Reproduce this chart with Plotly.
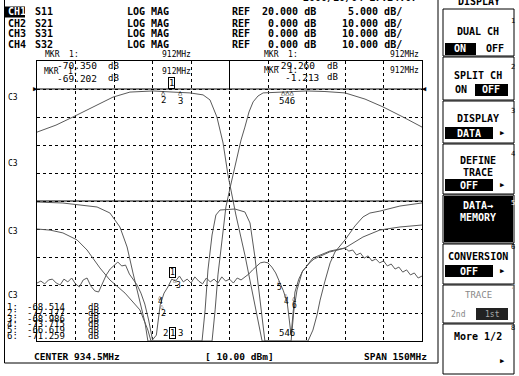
import plotly.graph_objects as go

S21_F = [859.5, 866.9, 873.5, 882.1, 889.1, 895.7, 904.7, 912.5, 919.1, 924.2, 926.9, 929.6,
         932.0, 933.9, 935.1, 937.0, 940.5, 943.3, 945.6, 947.2, 965.1, 967.0, 968.6, 969.8,
         971.7, 973.7, 975.6, 979.5, 983.4, 986.5, 989.2, 993.1, 1000.9, 1009.5]
S21_DB = [-15.4, -12.9, -10.0, -6.1, -2.9, -1.1, -0.7, -1.1, -1.4, -2.1, -3.9, -10.0,
          -19.3, -30.7, -36.8, -45.0, -59.3, -71.8, -82.5, -90.0, -90.0, -86.1, -80.7, -75.4,
          -68.6, -62.1, -58.2, -53.9, -48.9, -45.7, -44.3, -43.6, -41.8, -40.7]

S31_F = [859.5, 864.6, 869.6, 875.1, 879.0, 881.3, 884.0, 887.9, 893.8, 899.6, 902.7, 903.9,
         927.7, 928.9, 930.0, 931.6, 933.1, 934.7, 935.9, 937.4, 939.0, 940.5, 942.1, 943.7,
         945.6, 947.6, 954.2, 964.7, 971.7, 979.5, 987.3, 994.3, 1002.1, 1009.5]
S31_DB = [-50.0, -50.4, -51.4, -53.9, -57.5, -60.4, -63.9, -68.2, -72.9, -78.9, -86.1, -90.0,
          -90.0, -78.9, -66.4, -53.9, -42.1, -35.4, -30.4, -24.3, -18.2, -13.6, -8.2, -4.6,
          -2.5, -1.4, -1.1, -0.7, -0.9, -1.4, -3.6, -6.4, -10.0, -13.6]

S11_F = [859.5, 869.6, 882.9, 887.9, 891.8, 894.6, 896.9, 899.6, 901.6, 902.7, 923.8, 925.0,
         926.1, 927.7, 929.2, 930.8, 936.6, 940.5, 942.5, 944.4, 946.4, 947.6, 948.3, 958.5,
         959.6, 960.8, 962.8, 967.0, 973.7, 979.5, 986.5, 993.1, 1000.9, 1009.5]
S11_DB = [-0.18, -0.36, -1.07, -2.14, -4.64, -8.21, -12.86, -17.68, -21.79, -25.0, -25.0, -19.46,
          -12.32, -6.07, -2.5, -1.61, -1.43, -1.96, -3.93, -10.0, -17.68, -21.79, -25.0, -25.0,
          -19.46, -15.89, -12.68, -10.18, -8.93, -8.39, -6.43, -5.18, -4.64, -4.29]

S32_F = [859.5, 861.0, 862.5, 864.0, 865.5, 867.0, 868.5, 870.0, 871.5, 873.0,
         874.5, 876.0, 877.5, 879.0, 880.5, 882.0, 883.5, 885.0, 886.5, 888.0,
         889.5, 891.0, 892.5, 894.0, 895.5, 897.0, 898.5, 900.0, 901.5, 903.0,
         904.5, 906.0, 907.5, 909.0, 910.5, 912.0, 913.5, 915.0, 916.5, 918.0,
         919.5, 921.0, 922.5, 924.0, 925.5, 927.0, 928.5, 930.0, 931.5, 933.0,
         934.5, 936.0, 937.5, 939.0, 940.5, 942.0, 943.5, 945.0, 946.5, 948.0,
         949.5, 951.0, 952.5, 954.0, 955.5, 957.0, 958.5, 960.0, 961.5, 963.0,
         964.5, 966.0, 967.5, 969.0, 970.5, 972.0, 973.5, 975.0, 976.5, 978.0,
         979.5, 981.0, 982.5, 984.0, 985.5, 987.0, 988.5, 990.0, 991.5, 993.0,
         994.5, 996.0, 997.5, 999.0, 1000.5, 1002.0, 1003.5, 1005.0, 1006.5, 1008.0,
         1009.5]
S32_DB = [-69.3, -68.6, -69.6, -68.2, -67.9, -69.3, -70.0, -67.9, -68.9, -67.5,
          -69.6, -70.7, -68.2, -67.5, -70.4, -72.1, -72.5, -69.3, -66.4, -64.3,
          -62.9, -61.8, -63.2, -62.9, -66.1, -68.2, -70.0, -72.9, -76.8, -82.5,
          -89.6, -87.9, -77.1, -72.9, -70.7, -67.9, -68.6, -66.8, -68.9, -67.9,
          -69.3, -67.1, -68.6, -69.6, -67.5, -68.9, -67.9, -69.3, -67.1, -68.6,
          -67.9, -69.3, -67.5, -68.2, -67.1, -66.1, -64.6, -63.2, -62.1, -61.8,
          -62.1, -63.6, -65.7, -68.9, -72.1, -76.4, -87.9, -72.5, -67.9, -65.0,
          -63.2, -61.8, -60.7, -60.0, -59.6, -58.9, -58.2, -57.9, -57.5, -57.1,
          -56.8, -57.9, -57.5, -59.3, -58.6, -60.4, -59.6, -61.4, -60.7, -62.1,
          -61.4, -63.2, -62.5, -64.3, -63.6, -65.4, -64.6, -66.4, -65.7, -67.5,
          -66.8]

CHANNELS = ["CH1", "CH2", "CH3", "CH4"]
PARAMS = ["S11", "S21", "S31", "S32"]
REFS = ["20.000 dB", "0.000 dB", "0.000 dB", "0.000 dB"]
SCALES = ["5.000 dB/", "10.000 dB/", "10.000 dB/", "10.000 dB/"]
MKR_NUM = ["1:", "2:", "3:", "4:", "5:", "6:"]
MKR_VAL = ["-68.514", "-77.177", "-68.986", "-73.715", "-66.619", "-71.259"]

CENTER_MHZ = 934.5
SPAN_MHZ = 150.0

# ---------------- geometry helpers ----------------
W, H = 519, 376
L, R, T, B = 37, 422, 61, 341
MONO = "DejaVu Sans Mono"
TRACE = "#5a5a5a"


def px(x):
    return (x - L) / (R - L)


def py(y):
    return (B - y) / (B - T)


fig = go.Figure()
fig.add_trace(go.Scatter(x=S21_F, y=S21_DB, mode="lines", line=dict(color=TRACE, width=1), name="S21"))
fig.add_trace(go.Scatter(x=S31_F, y=S31_DB, mode="lines", line=dict(color=TRACE, width=1), name="S31"))
fig.add_trace(go.Scatter(x=S32_F, y=S32_DB, mode="lines", line=dict(color=TRACE, width=1), name="S32"))
fig.add_trace(go.Scatter(x=S11_F, y=S11_DB, mode="lines", line=dict(color=TRACE, width=1), name="S11",
                         yaxis="y2"))

ann = []


def text(s, x, y, size=10, bold=False, color="black", xa="left", ya="middle", border=None, bg=None):
    d = dict(text=s, x=px(x), y=py(y), xref="paper", yref="paper", showarrow=False,
             xanchor=xa, yanchor=ya,
             font=dict(family=MONO, size=size, color=color, weight="bold" if bold else "normal"))
    if border:
        d.update(bordercolor=border, borderwidth=1, borderpad=0)
    if bg:
        d.update(bgcolor=bg)
    ann.append(d)


shapes = []


def rect(x0, y0, x1, y1, fill=None, line="black", lw=1):
    shapes.append(dict(type="rect", xref="paper", yref="paper", x0=px(x0), x1=px(x1), y0=py(y0), y1=py(y1),
                       line=dict(color=line, width=lw if line else 0), fillcolor=fill or "rgba(0,0,0,0)",
                       layer="above"))


def hline(x0, x1, y, color="black", lw=1, dash="solid"):
    shapes.append(dict(type="line", xref="paper", yref="paper", x0=px(x0), x1=px(x1), y0=py(y), y1=py(y),
                       line=dict(color=color, width=lw, dash=dash), layer="above"))


def vline(x, y0, y1, color="black", lw=1):
    shapes.append(dict(type="line", xref="paper", yref="paper", x0=px(x), x1=px(x), y0=py(y0), y1=py(y1),
                       line=dict(color=color, width=lw), layer="above"))


# reference lines
shapes.append(dict(type="line", xref="paper", yref="y", x0=0, x1=1, y0=0, y1=0, line=dict(color="black", width=1)))
shapes.append(dict(type="line", xref="paper", yref="y", x0=0, x1=1, y0=-40, y1=-40, line=dict(color="black", width=1)))
shapes.append(dict(type="line", xref="x", yref="y", x0=CENTER_MHZ, x1=CENTER_MHZ, y0=0, y1=10,
                   line=dict(color="black", width=1)))

# outer frame of the display
vline(4.5, -2, 363)
hline(4.5, 438, 363)
vline(438, -2, 363)

# header
rows_y = [12, 23, 33.5, 44]
for i in range(4):
    yy = rows_y[i]
    if i == 0:
        rect(5, yy - 5.5, 25, yy + 5.5, fill="black", line=None)
        text(CHANNELS[i], 6, yy, bold=True, color="white")
    else:
        text(CHANNELS[i], 6, yy, bold=True)
    text(PARAMS[i], 33, yy, bold=True)
    text("LOG MAG", 125, yy, bold=True)
    text("REF", 230, yy, bold=True)
    text(REFS[i], 318, yy, bold=True, xa="right")
    text(SCALES[i], 404, yy, bold=True, xa="right")
text("2000/10/04 17:24:07", 360, -2, size=10, bold=True, xa="center")

# marker readouts
text("MKR  1:", 43, 54.5, size=8)
text("912MHz", 193, 54.5, size=8, xa="right")
text("-70.350", 55, 65.5, size=9.5)
text("dB", 106, 65.5, size=9)
text("MKR  1:", 42, 71.5, size=8)
text("912MHz", 193, 71.5, size=8, xa="right")
text("-69.202", 55, 78, size=9.5)
text("dB", 106, 78, size=9)

text("MKR  1:", 262, 54.5, size=8)
text("912MHz", 421, 54.5, size=8, xa="right")
text("-29.260", 273, 65.5, size=9.5)
text("dB", 325, 65.5, size=9)
text("MKR  1:", 262, 70.5, size=8)
text("912MHz", 421, 70.5, size=8, xa="right")
text("-1.213", 283, 77, size=9.5)
text("dB", 325, 77, size=9)

# reference position arrows
text("\u25b6", 35, 88.5, size=7, xa="center")
text("\u25c0", 425, 88.5, size=7, xa="center")

# channel labels
for yy in [97, 163, 231, 295]:
    text("C3", 6, yy, size=8)

# markers in the plot
text("1", 171, 83, size=9, xa="center", border="black")
text("\u25b3", 163, 92.5, size=7, xa="center")
text("2", 163, 100, size=9, xa="center")
text("\u25b3", 180, 92.5, size=7, xa="center")
text("3", 180, 101, size=9, xa="center")
text("\u25b3\u25b3\u25b3", 287, 93, size=7, xa="center")
text("546", 287, 101, size=9, xa="center")

text("1", 172, 272, size=8, xa="center", border="black")
text("\u25b3", 175, 279, size=6, xa="center")
text("3", 178, 285, size=8, xa="center")
text("\u25b3", 160, 296, size=6, xa="center")
text("4", 160, 301, size=8, xa="center")
text("\u25b3", 162, 305, size=6, xa="center")
text("2", 163, 313, size=8, xa="center")
text("2", 165, 333, size=9, xa="center")
text("1", 172, 333, size=9, xa="center", border="black")
text("3", 180, 333, size=9, xa="center")

text("\u25b3", 279, 281, size=6, xa="center")
text("5", 279, 287, size=8, xa="center")
text("\u25b3", 286, 294, size=6, xa="center")
text("4", 286, 301, size=8, xa="center")
text("\u25b3", 294, 297, size=6, xa="center")
text("6", 294, 305, size=8, xa="center")
text("546", 287, 333, size=9, xa="center")

# marker list
for i in range(6):
    yy = 307 + i * 5.8
    text(MKR_NUM[i], 5, yy, size=9)
    text(MKR_VAL[i], 25, yy, size=9)
    text("dB", 86, yy, size=9)

# bottom annotation line
text("CENTER %.1fMHz" % CENTER_MHZ, 32, 356, size=9.5, bold=True)
text("[ 10.00 dBm]", 203, 356, size=9.5, bold=True)
text("SPAN %dMHz" % SPAN_MHZ, 429, 356, size=9.5, bold=True, xa="right")

# ---------------- softkey panel ----------------
text("DISPLAY", 479, 1, size=10, bold=True, xa="center")
keys = [(9, 56), (57, 100), (101, 143), (144, 194), (195, 243), (244, 284), (285, 323), (324, 374)]
for (a, b) in keys:
    rect(443, a, 514, b)
# key 1
text("1", 509, 21, size=7)
text("DUAL CH", 478, 32, bold=True, xa="center")
rect(445, 43, 476, 55, fill="black", line=None)
text("ON", 460, 49, bold=True, color="white", xa="center")
text("OFF", 495, 49, bold=True, xa="center")
# key 2
text("2", 509, 67, size=7)
text("SPLIT CH", 478, 75, bold=True, xa="center")
text("ON", 461, 90, bold=True, xa="center")
rect(475, 84, 508, 96, fill="black", line=None)
text("OFF", 491, 90, bold=True, color="white", xa="center")
# key 3
text("3", 509, 111, size=7)
text("DISPLAY", 478, 118, bold=True, xa="center")
rect(445, 127, 493, 139, fill="black", line=None)
text("DATA", 469, 133, bold=True, color="white", xa="center")
text("\u25b6", 502, 133, size=7, xa="center")
# key 4
text("4", 509, 154, size=7)
text("DEFINE", 478, 160, bold=True, xa="center")
text("TRACE", 478, 172, bold=True, xa="center")
rect(445, 179, 493, 191, fill="black", line=None)
text("OFF", 469, 185, bold=True, color="white", xa="center")
text("\u25b6", 502, 185, size=7, xa="center")
# key 5 (highlighted)
rect(444, 196, 513, 242, fill="black", line=None)
text("5", 509, 203, size=7, color="white")
text("DATA\u2192", 478, 206, bold=True, color="white", xa="center")
text("MEMORY", 478, 217, bold=True, color="white", xa="center")
# key 6
text("6", 509, 247, size=7)
text("CONVERSION", 478, 256, bold=True, xa="center")
rect(445, 265, 493, 277, fill="black", line=None)
text("OFF", 469, 271, bold=True, color="white", xa="center")
text("\u25b6", 502, 271, size=7, xa="center")
# key 7 (disabled)
text("7", 509, 287, size=7, color="#888888")
text("TRACE", 478, 295, size=9, color="#888888", xa="center")
text("2nd", 459, 314, size=8, color="#888888", xa="center")
rect(476, 308, 508, 320, fill="#222222", line=None)
text("1st", 492, 314, size=8, color="#aaaaaa", xa="center")
# key 8
text("8", 509, 328, size=7)
text("More 1/2", 478, 336, bold=True, xa="center")
text("\u25b6", 502, 361, size=7, xa="center")

fig.update_layout(
    width=W, height=H,
    margin=dict(l=L, r=W - R, t=T, b=H - B, pad=0),
    paper_bgcolor="white", plot_bgcolor="white",
    showlegend=False,
    xaxis=dict(range=[CENTER_MHZ - SPAN_MHZ / 2, CENTER_MHZ + SPAN_MHZ / 2], tick0=CENTER_MHZ - SPAN_MHZ / 2,
               dtick=SPAN_MHZ / 10, showgrid=True, gridcolor="black", griddash="dot", gridwidth=1,
               showticklabels=False, ticks="", zeroline=False, showline=True, mirror=True,
               linecolor="black", linewidth=1, fixedrange=True),
    yaxis=dict(range=[-90, 10], tick0=-90, dtick=10, showgrid=True, gridcolor="black", griddash="dot",
               gridwidth=1, showticklabels=False, ticks="", zeroline=False, showline=True, mirror=True,
               linecolor="black", linewidth=1, fixedrange=True),
    yaxis2=dict(range=[-25, 25], overlaying="y", visible=False, fixedrange=True),
    annotations=ann, shapes=shapes,
)

fig.write_html("out.html")
